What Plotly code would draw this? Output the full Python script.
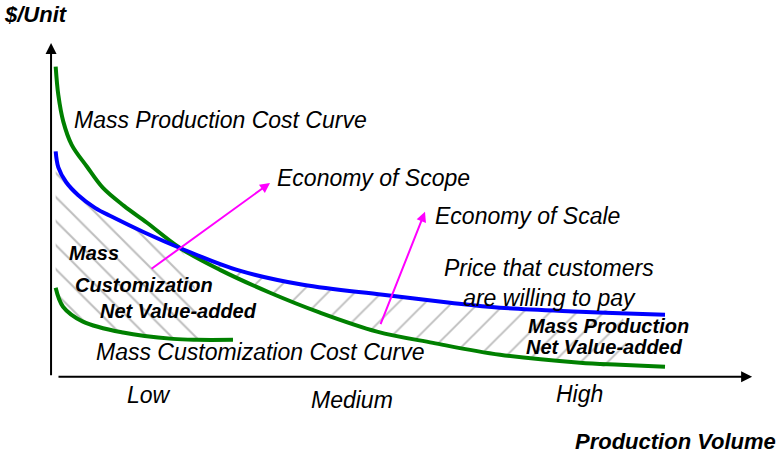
import plotly.graph_objects as go

# ---------------- data (arbitrary units: volume 0-100, $/unit 0-100) ----------------
# Mass production cost curve
mp_volume = [0.81, 1.19, 1.90, 3.10, 5.29, 7.57, 10.57, 13.86, 18.57, 24.29,
             31.43, 38.57, 46.71, 54.71, 64.29, 75.71, 81.43, 87.86]
mp_cost = [93.5, 84.9, 76.9, 69.9, 63.3, 56.9, 51.5, 46.4, 38.8, 32.2,
           25.3, 19.3, 13.6, 10.2, 6.6, 4.2, 3.6, 3.0]

# Price that customers are willing to pay
price_volume = [0.81, 1.19, 2.29, 4.0, 6.43, 8.86, 13.57, 18.57, 26.71, 36.14,
                47.57, 57.14, 64.29, 75.71, 81.43, 87.86]
price = [67.9, 63.1, 58.7, 54.8, 50.9, 48.2, 43.4, 38.8, 32.2, 27.7,
         24.7, 22.3, 20.8, 19.6, 19.1, 18.7]

# Mass customization cost curve
mc_volume = [0.81, 1.86, 4.71, 10.43, 17.57, 21.0, 26.14]
mc_cost = [26.8, 21.1, 16.6, 13.3, 11.4, 11.1, 11.1]

# Arrows (tail -> head) : Economy of Scope, Economy of Scale
scope_arrow_x = [14.29, 31.43]
scope_arrow_y = [32.2, 58.4]
scale_arrow_x = [47.14, 53.57]
scale_arrow_y = [15.4, 49.7]

# Production volume levels (x-axis labels)
level_labels = ["Low", "Medium", "High"]
level_pos = [14.1, 43.1, 75.7]

FONT = "Liberation Sans, Arial, sans-serif"
GREEN = "#008000"
BLUE = "#0000FF"
MAGENTA = "#FF00FF"
HATCH = "#BEBEBE"

fig = go.Figure()

# ---------------- hatched regions ----------------
# Mass customization net value-added: below price, above MC cost (up to the intersection)
left_x = price_volume[:8] + mc_volume[:6][::-1]
left_y = price[:8] + mc_cost[:6][::-1]
fig.add_trace(go.Scatter(
    x=left_x, y=left_y, mode="lines", fill="toself",
    line=dict(width=0, shape="spline", color="rgba(0,0,0,0)"),
    fillcolor="rgba(255,255,255,0)",
    fillpattern=dict(shape="\\", fgcolor=HATCH, bgcolor="rgba(255,255,255,0)",
                     size=17, solidity=0.12, fillmode="replace"),
    hoverinfo="skip"))

# Mass production net value-added: between price and MP cost beyond the intersection
right_x = price_volume[7:15] + mp_volume[8:17][::-1]
right_y = price[7:15] + mp_cost[8:17][::-1]
fig.add_trace(go.Scatter(
    x=right_x, y=right_y, mode="lines", fill="toself",
    line=dict(width=0, shape="spline", color="rgba(0,0,0,0)"),
    fillcolor="rgba(255,255,255,0)",
    fillpattern=dict(shape="/", fgcolor=HATCH, bgcolor="rgba(255,255,255,0)",
                     size=19, solidity=0.1, fillmode="replace"),
    hoverinfo="skip"))

# ---------------- curves ----------------
fig.add_trace(go.Scatter(x=mp_volume, y=mp_cost, mode="lines",
                         line=dict(color=GREEN, width=4, shape="spline"), hoverinfo="skip"))
fig.add_trace(go.Scatter(x=price_volume, y=price, mode="lines",
                         line=dict(color=BLUE, width=4, shape="spline"), hoverinfo="skip"))
fig.add_trace(go.Scatter(x=mc_volume, y=mc_cost, mode="lines",
                         line=dict(color=GREEN, width=4, shape="spline"), hoverinfo="skip"))

ann = []

# axes with arrows
ann.append(dict(x=0.15, y=100.6, ax=0.15, ay=0, xref="x", yref="y", axref="x", ayref="y",
                text="", showarrow=True, arrowhead=2, arrowsize=1.1, arrowwidth=2,
                arrowcolor="black"))
ann.append(dict(x=100.3, y=0, ax=1.0, ay=0, xref="x", yref="y", axref="x", ayref="y",
                text="", showarrow=True, arrowhead=2, arrowsize=1.1, arrowwidth=2,
                arrowcolor="black"))

# magenta arrows
for ax_, ay_ in [(scope_arrow_x, scope_arrow_y), (scale_arrow_x, scale_arrow_y)]:
    ann.append(dict(x=ax_[1], y=ay_[1], ax=ax_[0], ay=ay_[0], xref="x", yref="y",
                    axref="x", ayref="y", text="", showarrow=True, arrowhead=2,
                    arrowsize=1.0, arrowwidth=2, arrowcolor=MAGENTA))


def label(text, x, y, size, xanchor="left", xref="x", yref="y", align="left"):
    ann.append(dict(text=text, x=x, y=y, xref=xref, yref=yref, xanchor=xanchor,
                    yanchor="middle", showarrow=False, align=align,
                    font=dict(family=FONT, size=size, color="black")))


label("<i>Mass Production Cost Curve</i>", 3.14, 77.4, 23)
label("<i>Economy of Scope</i>", 32.14, 59.9, 23)
label("<i>Economy of Scale</i>", 54.71, 48.5, 23)
label("<i>Price that customers<br>are willing to pay</i>", 71.3, 28.3, 23,
      xanchor="center", align="center")
label("<i>Mass Customization Cost Curve</i>", 6.29, 7.5, 23)

label("<b><i>Mass</i></b>", 2.43, 37.3, 20)
label("<b><i>Customization</i></b>", 3.29, 27.7, 20)
label("<b><i>Net Value-added</i></b>", 6.86, 19.9, 20)
label("<b><i>Mass Production</i></b>", 68.0, 15.4, 20)
label("<b><i>Net Value-added</i></b>", 67.71, 9.0, 20)

level_y = [-0.044, -0.059, -0.041]
for t, xp, yp in zip(level_labels, level_pos, level_y):
    label("<i>%s</i>" % t, xp, yp, 23, xanchor="center", yref="paper")

label("<b><i>$/Unit</i></b>", -0.0574, 1.074, 22, xref="paper", yref="paper")
label("<b><i>Production Volume</i></b>", 1.029, -0.181, 22, xanchor="right",
      xref="paper", yref="paper")

fig.update_layout(
    width=782, height=454,
    margin=dict(l=43, r=25, t=40, b=74),
    xaxis=dict(range=[-1, 101], visible=False, fixedrange=True),
    yaxis=dict(range=[-1, 101.5], visible=False, fixedrange=True),
    plot_bgcolor="white", paper_bgcolor="white",
    showlegend=False,
    annotations=ann,
)

fig.write_html("out.html", config={"displayModeBar": False},
               post_script="document.body.style.margin='0px';")
